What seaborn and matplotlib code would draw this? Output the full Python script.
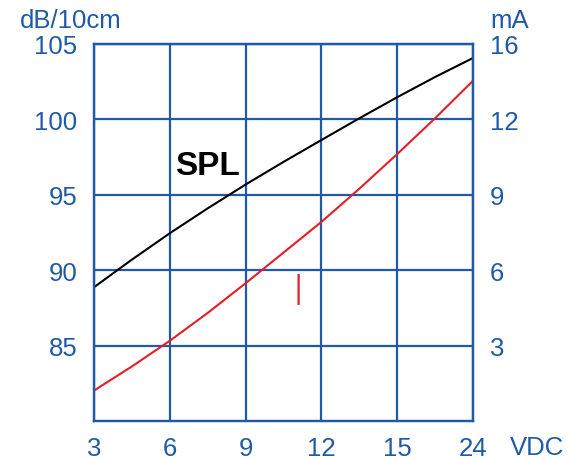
import numpy as np
import matplotlib.pyplot as plt
import seaborn as sns

# values
volts = [3, 4.5, 6, 7.5, 9, 10.5, 12, 13.5, 15, 19.5, 24]
spl_db = [88.87, 90.7, 92.45, 94.1, 95.68, 97.18, 98.63, 100.07, 101.47, 102.81, 104.07]
current_ma = [1.21, 2.17, 3.19, 4.30, 5.48, 6.70, 7.92, 9.24, 10.62, 12.06, 14.05]

volt_ticks = [3, 6, 9, 12, 15, 24]
db_ticks = [85, 90, 95, 100, 105]
ma_grid = [0, 3, 6, 9, 12, 16]
ma_ticks = [3, 6, 9, 12, 16]

BLUE = "#1f5aa6"
RED = "#e41e26"

sns.set_style("white")
plt.rcParams["font.family"] = ["Liberation Sans", "DejaVu Sans"]

fig = plt.figure(figsize=(5.79, 4.6), dpi=100)
ax = fig.add_axes([0.1623, 0.0826, 0.6546, 0.8196])
ax2 = ax.twinx()

# uneven axes: each grid step is one cell wide
idx_v = np.arange(len(volt_ticks))
idx_ma = np.arange(len(ma_grid))
ax.set_xscale("function", functions=(lambda v: np.interp(v, volt_ticks, idx_v),
                                     lambda v: np.interp(v, idx_v, volt_ticks)))
ax2.set_yscale("function", functions=(lambda v: np.interp(v, ma_grid, idx_ma),
                                      lambda v: np.interp(v, idx_ma, ma_grid)))

sns.lineplot(x=volts, y=spl_db, ax=ax, color="black", linewidth=1.5)
sns.lineplot(x=volts, y=current_ma, ax=ax2, color=RED, linewidth=1.5)

ax.set_xlim(3, 24)
ax.set_ylim(80, 105)
ax2.set_ylim(0, 16)
ax.set_xticks(volt_ticks)
ax.set_xticklabels([str(v) for v in volt_ticks])
ax.set_yticks(db_ticks)
ax2.set_yticks(ma_ticks)
ax2.set_yticklabels([str(v) for v in ma_ticks])

ax.grid(True, color=BLUE, linewidth=1.6)
ax.set_axisbelow(True)
for a in (ax, ax2):
    for sp in a.spines.values():
        sp.set_color(BLUE)
        sp.set_linewidth(1.6)
ax.tick_params(axis="x", length=0, pad=10.5, labelsize=18.5, labelcolor=BLUE)
ax.tick_params(axis="y", length=0, pad=12, labelsize=18.5, labelcolor=BLUE)
ax2.tick_params(axis="y", length=0, pad=12, labelsize=18.5, labelcolor=BLUE)
ax.set_xlabel("")
ax.set_ylabel("")
ax2.set_ylabel("")

# labels
ax.text(0.215, 0.655, "SPL", transform=ax.transAxes, fontsize=24,
        fontweight="bold", color="black", ha="left", va="baseline")
ax.text(0.538, 0.31, "I", transform=ax.transAxes, fontsize=31,
        family=["Lato", "Liberation Sans"], fontweight=300,
        color=RED, ha="center", va="baseline")
fig.text(20 / 579, 1 - 28 / 460, "dB/10cm", fontsize=18.5, color=BLUE,
         ha="left", va="baseline")
fig.text(490 / 579, 1 - 28 / 460, "mA", fontsize=18.5, color=BLUE,
         ha="left", va="baseline")
fig.text(510 / 579, 1 - 455 / 460, "VDC", fontsize=18.5, color=BLUE,
         ha="left", va="baseline")

fig.savefig("out.png", dpi=100)
